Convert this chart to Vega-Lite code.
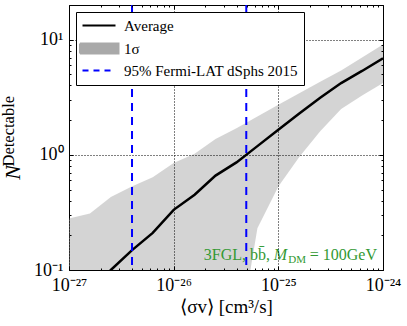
{
  "$schema": "https://vega.github.io/schema/vega-lite/v6.json",
  "width": 314,
  "height": 265,
  "autosize": "none",
  "padding": {"left": 69, "top": 5, "right": 24, "bottom": 56},
  "config": {
    "view": {"stroke": "black", "strokeWidth": 1},
    "font": "Liberation Serif",
    "axis": {"titleFontWeight": "normal", "titleColor": "black", "labelColor": "black", "tickColor": "black", "domain": false, "labelFont": "Liberation Serif", "titleFont": "Liberation Serif"},
    "legend": {
      "orient": "top-left",
      "offset": 7,
      "padding": 6,
      "rowPadding": 5,
      "strokeColor": "black",
      "fillColor": "white",
      "cornerRadius": 0,
      "labelFont": "Liberation Serif",
      "labelFontSize": 15,
      "labelColor": "black",
      "labelOffset": 27,
      "labelLimit": 400,
      "symbolSize": 100,
      "symbolStrokeWidth": 2,
      "symbolOpacity": 1,
      "zindex": 2
    }
  },
  "datasets": {
    "sigma": [
      {"sv": 1e-27, "lo": 0.001, "hi": 0.28, "avg": 0.04},
      {"sv": 1.585e-27, "lo": 0.001, "hi": 0.31, "avg": 0.065},
      {"sv": 2.512e-27, "lo": 0.001, "hi": 0.43, "avg": 0.1},
      {"sv": 3.981e-27, "lo": 0.001, "hi": 0.53, "avg": 0.148},
      {"sv": 6.31e-27, "lo": 0.001, "hi": 0.64, "avg": 0.21},
      {"sv": 1e-26, "lo": 0.001, "hi": 0.85, "avg": 0.333},
      {"sv": 1.585e-26, "lo": 0.001, "hi": 1.02, "avg": 0.45},
      {"sv": 2.512e-26, "lo": 0.001, "hi": 1.37, "avg": 0.66},
      {"sv": 3.981e-26, "lo": 0.019, "hi": 1.7, "avg": 0.86},
      {"sv": 6.31e-26, "lo": 0.23, "hi": 2.15, "avg": 1.19},
      {"sv": 1e-25, "lo": 0.53, "hi": 2.72, "avg": 1.65},
      {"sv": 1.585e-25, "lo": 0.96, "hi": 3.43, "avg": 2.28},
      {"sv": 2.512e-25, "lo": 1.6, "hi": 4.31, "avg": 3.13},
      {"sv": 3.981e-25, "lo": 2.5, "hi": 5.4, "avg": 4.2},
      {"sv": 6.31e-25, "lo": 3.28, "hi": 7.0, "avg": 5.35},
      {"sv": 1e-24, "lo": 4.2, "hi": 9.1, "avg": 6.9}
    ],
    "limits": [
      {"sv": 4.0e-27},
      {"sv": 4.94e-26}
    ],
    "note": [
      {"sv": 1e-24, "n": 0.1}
    ]
  },
  "layer": [
    {
      "data": {"name": "sigma"},
      "mark": {"type": "area", "opacity": 0.5, "clip": true},
      "encoding": {
        "x": {
          "field": "sv", "type": "quantitative",
          "scale": {"type": "log", "domain": [1e-27, 1e-24], "nice": false},
          "axis": {
            "orient": "bottom",
            "values": [1e-27, 2e-27, 3e-27, 4e-27, 5e-27, 6e-27, 7e-27, 8e-27, 9e-27, 1e-26, 2e-26, 3e-26, 4e-26, 5e-26, 6e-26, 7e-26, 8e-26, 9e-26, 1e-25, 2e-25, 3e-25, 4e-25, 5e-25, 6e-25, 7e-25, 8e-25, 9e-25, 1e-24],
            "labelExpr": "abs(log(datum.value)/LN10 - round(log(datum.value)/LN10)) > 0.01 ? '' : datum.value < 5e-27 ? '10⁻²⁷' : datum.value < 5e-26 ? '10⁻²⁶' : datum.value < 5e-25 ? '10⁻²⁵' : '10⁻²⁴'",
            "tickSize": {"condition": {"test": "abs(log(datum.value)/LN10 - round(log(datum.value)/LN10)) < 0.01", "value": -4}, "value": -2},
            "grid": true,
            "gridOpacity": {"condition": {"test": "abs(log(datum.value)/LN10 - round(log(datum.value)/LN10)) < 0.01", "value": 1}, "value": 0},
            "gridDash": [1, 2],
            "gridColor": "black",
            "labelFlush": false,
            "labelOverlap": false,
            "labelBound": false,
            "labelPadding": 10,
            "labelFontSize": 18,
            "title": "⟨σv⟩ [cm³/s]",
            "titleFontSize": 19,
            "titleBaseline": "alphabetic",
            "titleY": 42,
            "zindex": 1
          }
        },
        "y": {
          "field": "hi", "type": "quantitative",
          "scale": {"type": "log", "domain": [0.1, 20], "nice": false},
          "axis": {
            "orient": "left",
            "values": [0.1, 0.2, 0.3, 0.4, 0.5, 0.6, 0.7, 0.8, 0.9, 1, 2, 3, 4, 5, 6, 7, 8, 9, 10],
            "labelExpr": "abs(log(datum.value)/LN10 - round(log(datum.value)/LN10)) > 0.01 ? '' : datum.value < 0.5 ? '10⁻¹' : datum.value < 5 ? '10⁰' : '10¹'",
            "tickSize": {"condition": {"test": "abs(log(datum.value)/LN10 - round(log(datum.value)/LN10)) < 0.01", "value": -4}, "value": -2},
            "grid": true,
            "gridOpacity": {"condition": {"test": "abs(log(datum.value)/LN10 - round(log(datum.value)/LN10)) < 0.01", "value": 1}, "value": 0},
            "gridDash": [1, 2],
            "gridColor": "black",
            "labelOverlap": false,
            "labelBound": false,
            "labelFlush": false,
            "labelPadding": 10,
            "labelFontSize": 18,
            "title": "Detectable",
            "titleFontSize": 16.5,
            "titleAngle": 270,
            "titleAlign": "left",
            "titleBaseline": "alphabetic",
            "titleX": -56,
            "titleY": 161,
            "zindex": 1
          }
        },
        "y2": {"field": "lo"},
        "color": {
          "datum": "1σ", "type": "nominal",
          "scale": {"domain": ["Average", "1σ", "95% Fermi-LAT dSphs 2015"], "range": ["black", "#a9a9a9", "blue"]}
        }
      }
    },
    {
      "data": {"name": "sigma"},
      "mark": {"type": "line", "clip": true, "strokeWidth": 2.5},
      "encoding": {
        "x": {
          "field": "sv", "type": "quantitative",
          "axis": {
            "orient": "top",
            "values": [1e-27, 2e-27, 3e-27, 4e-27, 5e-27, 6e-27, 7e-27, 8e-27, 9e-27, 1e-26, 2e-26, 3e-26, 4e-26, 5e-26, 6e-26, 7e-26, 8e-26, 9e-26, 1e-25, 2e-25, 3e-25, 4e-25, 5e-25, 6e-25, 7e-25, 8e-25, 9e-25, 1e-24],
            "labels": false,
            "grid": false,
            "title": null,
            "tickSize": {"condition": {"test": "abs(log(datum.value)/LN10 - round(log(datum.value)/LN10)) < 0.01", "value": -4}, "value": -2},
            "zindex": 1
          }
        },
        "y": {
          "field": "avg", "type": "quantitative",
          "axis": {
            "orient": "right",
            "values": [0.1, 0.2, 0.3, 0.4, 0.5, 0.6, 0.7, 0.8, 0.9, 1, 2, 3, 4, 5, 6, 7, 8, 9, 10],
            "labels": false,
            "grid": false,
            "tickSize": {"condition": {"test": "abs(log(datum.value)/LN10 - round(log(datum.value)/LN10)) < 0.01", "value": -4}, "value": -2},
            "title": "N",
            "titleFontSize": 22,
            "titleFontStyle": "italic",
            "titleAngle": 270,
            "titleAlign": "center",
            "titleBaseline": "alphabetic",
            "titleX": -364,
            "titleY": 167,
            "zindex": 1
          }
        },
        "color": {
          "datum": "Average", "type": "nominal",
          "legend": {
            "title": null,
            "orient": "top-left",
            "symbolType": {"expr": "datum.value === '1σ' ? 'M-1.9,-1H5.8V1H-1.9Z' : 'M-1.4,0H5.2'"},
            "symbolFillColor": {"expr": "datum.value === '1σ' ? '#aaaaaa' : 'transparent'"},
            "symbolDash": {"expr": "datum.value === '95% Fermi-LAT dSphs 2015' ? [6, 5] : [1, 0]"}
          }
        }
      }
    },
    {
      "data": {"name": "limits"},
      "mark": {"type": "rule", "strokeWidth": 2, "strokeDash": [8, 6]},
      "encoding": {
        "x": {"field": "sv", "type": "quantitative", "axis": null},
        "color": {"datum": "95% Fermi-LAT dSphs 2015", "type": "nominal"}
      }
    },
    {
      "data": {"name": "note"},
      "mark": {"type": "text", "text": "= 100GeV", "align": "right", "baseline": "alphabetic", "dx": -6, "dy": -10, "fontSize": 16, "font": "Liberation Serif", "color": "#339933"},
      "encoding": {
        "x": {"field": "sv", "type": "quantitative", "axis": null},
        "y": {"field": "n", "type": "quantitative", "axis": null}
      }
    },
    {
      "data": {"name": "note"},
      "mark": {"type": "text", "text": "DM", "align": "right", "baseline": "alphabetic", "dx": -77, "dy": -7, "fontSize": 11, "font": "Liberation Serif", "color": "#339933"},
      "encoding": {
        "x": {"field": "sv", "type": "quantitative", "axis": null},
        "y": {"field": "n", "type": "quantitative", "axis": null}
      }
    },
    {
      "data": {"name": "note"},
      "mark": {"type": "text", "text": "M", "align": "right", "baseline": "alphabetic", "dx": -96, "dy": -10, "fontSize": 16, "fontStyle": "italic", "font": "Liberation Serif", "color": "#339933"},
      "encoding": {
        "x": {"field": "sv", "type": "quantitative", "axis": null},
        "y": {"field": "n", "type": "quantitative", "axis": null}
      }
    },
    {
      "data": {"name": "note"},
      "mark": {"type": "text", "text": "3FGL, bb̄,", "align": "right", "baseline": "alphabetic", "dx": -113, "dy": -10, "fontSize": 16, "font": "Liberation Serif", "color": "#339933"},
      "encoding": {
        "x": {"field": "sv", "type": "quantitative", "axis": null},
        "y": {"field": "n", "type": "quantitative", "axis": null}
      }
    }
  ],
  "resolve": {"axis": {"x": "independent", "y": "independent"}}
}
